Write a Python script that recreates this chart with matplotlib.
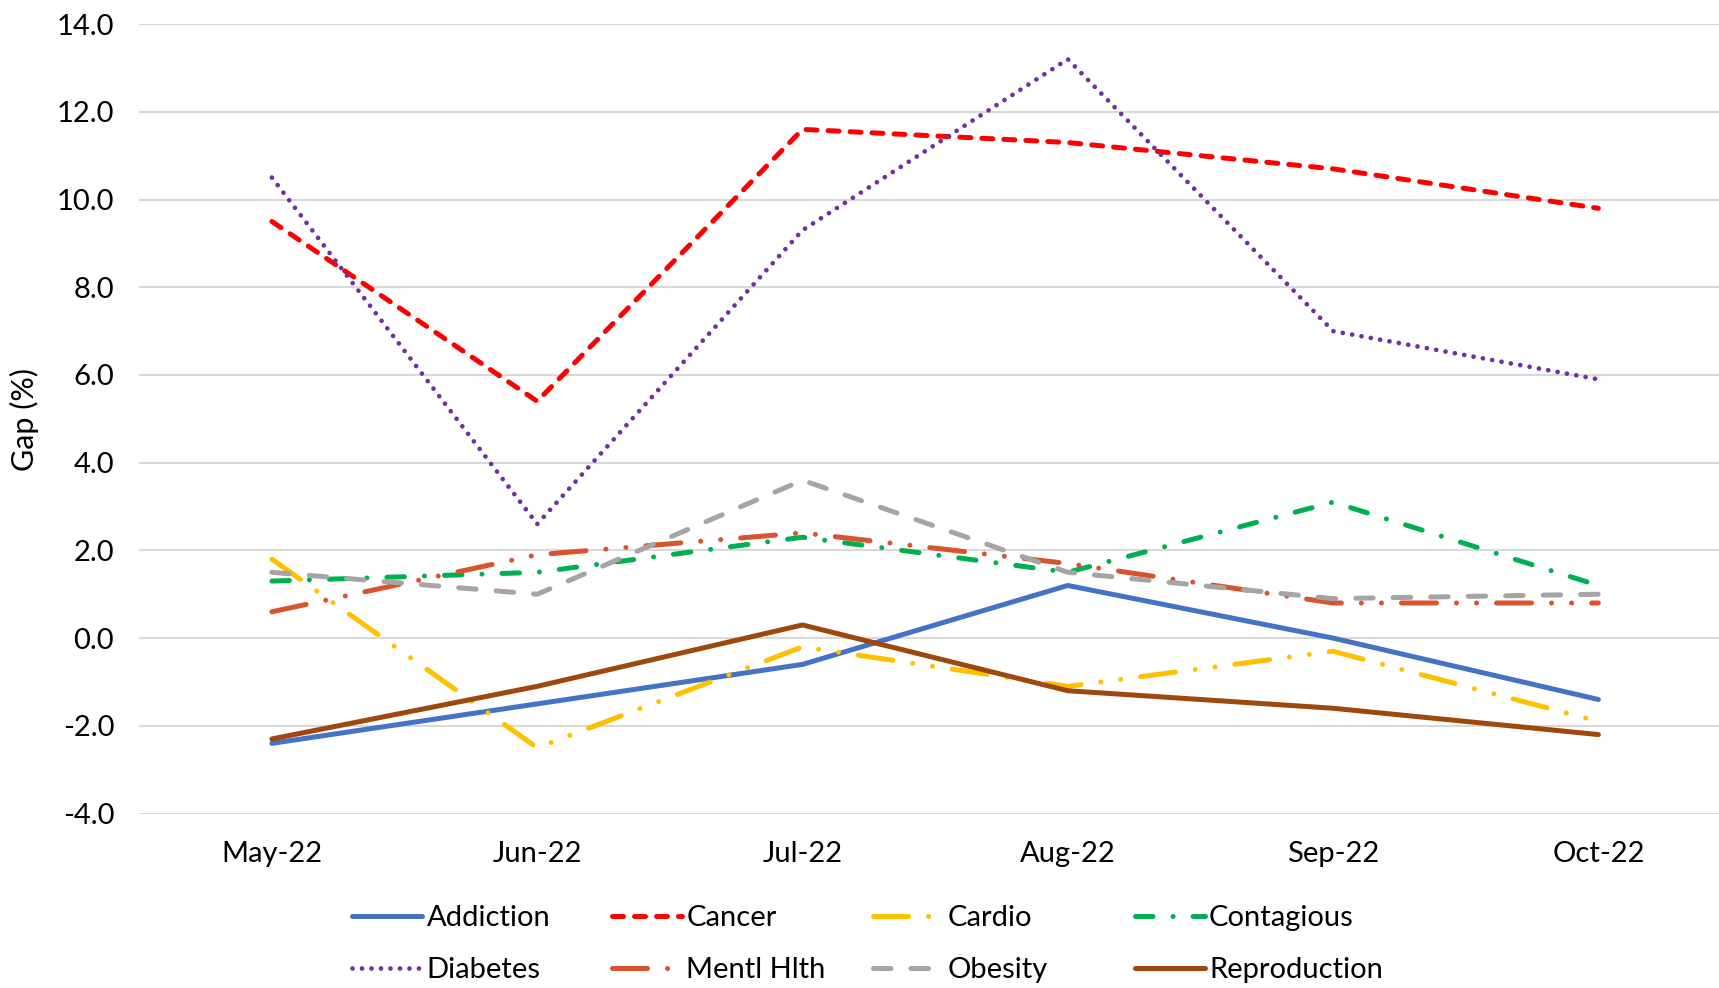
import matplotlib.pyplot as plt

months = ['May-22', 'Jun-22', 'Jul-22', 'Aug-22', 'Sep-22', 'Oct-22']

addiction = [-2.4, -1.5, -0.6, 1.2, 0.0, -1.4]
cancer = [9.5, 5.4, 11.6, 11.3, 10.7, 9.8]
cardio = [1.8, -2.5, -0.2, -1.1, -0.3, -1.9]
contagious = [1.3, 1.5, 2.3, 1.5, 3.1, 1.2]
diabetes = [10.5, 2.6, 9.3, 13.2, 7.0, 5.9]
mentl_hlth = [0.6, 1.9, 2.4, 1.7, 0.8, 0.8]
obesity = [1.5, 1.0, 3.6, 1.5, 0.9, 1.0]
reproduction = [-2.3, -1.1, 0.3, -1.2, -1.6, -2.2]

plt.rcParams['font.family'] = ['Lato', 'DejaVu Sans']

fig = plt.figure(figsize=(17.19, 9.88), dpi=100)
ax = fig.add_axes([0.081, 0.1766, 0.926, 0.799])

x = range(len(months))
series = [
    ('Addiction', addiction, '#4472C4', 'solid', 3.6),
    ('Cancer', cancer, '#FF0000', (0, (2.2, 2.2)), 3.6),
    ('Cardio', cardio, '#FFC000', (0, (7, 4, 0.01, 4, 0.01, 4)), 3.6),
    ('Contagious', contagious, '#00B050', (0, (3.5, 4, 0.01, 4)), 3.6),
    ('Diabetes', diabetes, '#7030A0', (0, (0.01, 2.0)), 3.4),
    ('Mentl Hlth', mentl_hlth, '#D9532C', (0, (7, 4, 0.01, 4, 0.01, 4)), 3.6),
    ('Obesity', obesity, '#A5A5A5', (0, (3.5, 4)), 3.6),
    ('Reproduction', reproduction, '#9E480E', 'solid', 3.6),
]

lines = []
for name, vals, color, ls, lw in series:
    ln, = ax.plot(x, vals, color=color, linestyle=ls, linewidth=lw, label=name,
                  dash_capstyle='round', solid_capstyle='round', solid_joinstyle='round')
    lines.append(ln)

ax.set_xlim(-0.5, 5.5)
ax.set_ylim(-4, 14)
ax.set_xticks(list(x))
ax.set_xticklabels(months)
yticks = [-4, -2, 0, 2, 4, 6, 8, 10, 12, 14]
ax.set_yticks(yticks)
ax.set_yticklabels([f'{v:.1f}' for v in yticks])
ax.tick_params(length=0, labelsize=21, colors='black')
ax.tick_params(axis='x', pad=20)
ax.tick_params(axis='y', pad=18)
ax.grid(axis='y', color='#D9D9D9', linewidth=1.5)
ax.set_axisbelow(True)
for spine in ax.spines.values():
    spine.set_visible(False)

fig.text(0.014, 0.575, 'Gap (%)', rotation=90, fontsize=22, va='center', ha='center')

# legend laid out row-major in 4 equal-width columns
col_x = [0.205, 0.356, 0.508, 0.660]
for i, cx in enumerate(col_x):
    pair = [lines[i], lines[i + 4]]
    fig.legend(handles=pair, labels=[l.get_label() for l in pair],
               loc='center left', bbox_to_anchor=(cx, 0.0445), frameon=False,
               fontsize=21, handlelength=2.4, handletextpad=0.15,
               labelspacing=0.88, borderpad=0, borderaxespad=0)

fig.savefig('out.png', dpi=100, facecolor='white')
